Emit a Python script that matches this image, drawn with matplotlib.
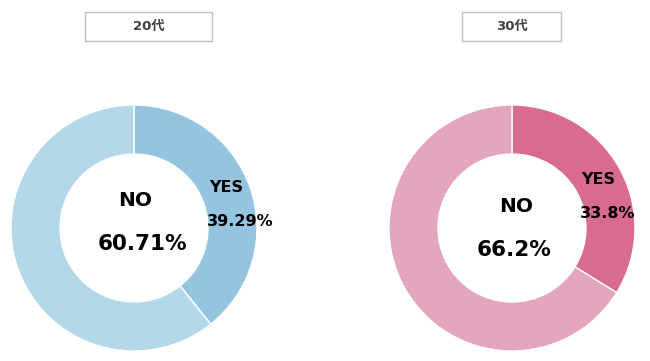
import matplotlib.pyplot as plt
from matplotlib.patches import Rectangle

plt.rcParams['font.family'] = ['DejaVu Sans', 'Noto Sans CJK JP']

# data
groups = ['20代', '30代']
labels = ['YES', 'NO']
yes_vals = [39.29, 33.8]
no_vals = [60.71, 66.2]
yes_txt = ['39.29%', '33.8%']
no_txt = ['60.71%', '66.2%']
colors = [['#95C4E1', '#B3D8EA'], ['#D96B93', '#E4A6BE']]

W, H = 650, 361
fig = plt.figure(figsize=(W / 100, H / 100), dpi=100)

# donut centres / radius in pixels
centres = [(134, 228), (512, 228)]
R = 123
# title boxes (x0, x1) in pixels
boxes = [(85, 212), (462, 561)]
# label offsets (pixels from centre)
no_pos = [[(1, 27), (8, -16)], [(4, 22), (2, -22)]]
yes_pos = [[(92, 40), (106, 7)], [(86, 48), (96, 15)]]

for i in range(2):
    cx, cy = centres[i]
    ax = fig.add_axes([(cx - R) / W, (H - cy - R) / H, 2 * R / W, 2 * R / H])
    ax.pie([yes_vals[i], no_vals[i]], colors=colors[i], startangle=90,
           counterclock=False, radius=1,
           wedgeprops=dict(width=1 - 74 / R, edgecolor='white', linewidth=1))
    ax.set_xlim(-1, 1)
    ax.set_ylim(-1, 1)
    ax.axis('off')
    # NO label in centre
    ax.text(no_pos[i][0][0] / R, no_pos[i][0][1] / R, 'NO', ha='center',
            va='center', fontsize=14.5, fontweight='bold', color='black')
    ax.text(no_pos[i][1][0] / R, no_pos[i][1][1] / R, no_txt[i], ha='center',
            va='center', fontsize=15.5, fontweight='bold', color='black')
    # YES label on ring
    ax.text(yes_pos[i][0][0] / R, yes_pos[i][0][1] / R, 'YES', ha='center',
            va='center', fontsize=11.5, fontweight='bold', color='black')
    ax.text(yes_pos[i][1][0] / R, yes_pos[i][1][1] / R, yes_txt[i], ha='center',
            va='center', fontsize=11.5, fontweight='bold', color='black')

    # title box
    x0, x1 = boxes[i]
    fig.patches.append(Rectangle((x0 / W, (H - 41) / H), (x1 - x0) / W, 29 / H,
                                 transform=fig.transFigure, facecolor='white',
                                 edgecolor='#BFBFBF', linewidth=1))
    fig.text((x0 + x1) / 2 / W, (H - 26.5) / H, groups[i], ha='center',
             va='center', fontsize=9.5, fontweight='bold', color='#404040')

fig.savefig('out.png', dpi=100)
